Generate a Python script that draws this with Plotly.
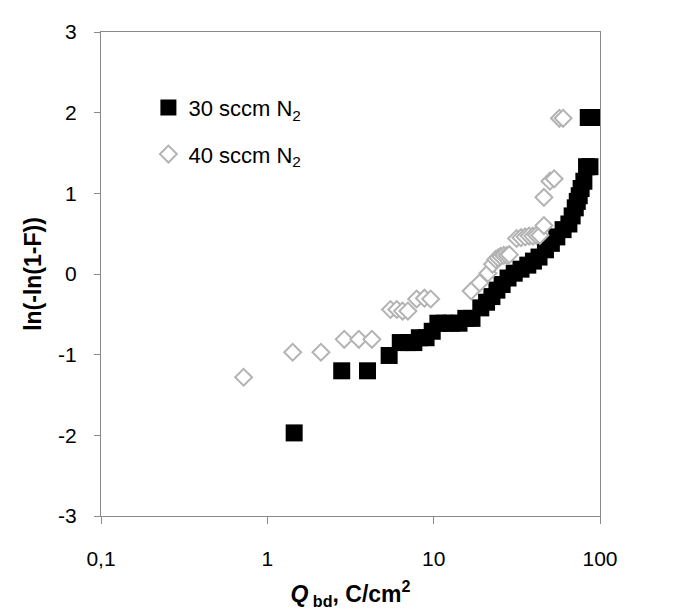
import plotly.graph_objects as go

# 30 sccm N2 (filled black squares)
q30 = [1.45, 2.8, 4.0, 5.4, 6.3, 7.0, 7.6, 8.2, 9.0, 9.8, 10.6, 11.6, 12.8, 14.2,
       15.6, 17.0, 19.2, 20.8, 22.4, 24.0, 25.8, 28.0, 30.5, 33.5, 36.8, 39.8, 43.0,
       47.0, 51.0, 55.0, 60.0, 65.0, 68.0, 71.0, 73.0, 75.0, 77.0, 80.0, 83.0, 87.0,
       85.0, 95.0]
w30 = [-1.97, -1.20, -1.20, -1.01, -0.85, -0.85, -0.85, -0.79, -0.79, -0.71, -0.61, -0.61,
       -0.61, -0.61, -0.55, -0.55, -0.42, -0.35, -0.28, -0.20, -0.13, -0.05, 0.01, 0.06,
       0.11, 0.16, 0.21, 0.30, 0.38, 0.46, 0.55, 0.62, 0.72, 0.82, 0.90, 0.97, 1.06, 1.15,
       1.33, 1.33, 1.94, 1.94]

# 40 sccm N2 (open grey diamonds)
q40 = [0.72, 1.42, 2.1, 2.9, 3.55, 4.25, 5.5, 6.0, 6.5, 7.0, 7.9, 8.8, 9.6,
       16.8, 18.9, 21.2, 22.6, 23.6, 24.4, 25.3, 26.4, 27.6, 28.5,
       31.5, 33.5, 35.5, 37.5, 39.5, 41.5, 43.5, 46.0, 46.0, 50.0, 53.0, 57.0, 60.0]
w40 = [-1.28, -0.97, -0.97, -0.81, -0.81, -0.81, -0.44, -0.44, -0.46, -0.46, -0.31, -0.30, -0.31,
       -0.21, -0.11, 0.01, 0.12, 0.18, 0.20, 0.22, 0.23, 0.23, 0.24,
       0.44, 0.45, 0.46, 0.47, 0.47, 0.48, 0.48, 0.60, 0.95, 1.15, 1.18, 1.93, 1.93]

x_ticks = [0.1, 1, 10, 100]
x_ticktext = ["0,1", "1", "10", "100"]
y_ticks = [-3, -2, -1, 0, 1, 2, 3]
y_ticktext = ["-3", "-2", "-1", "0", "1", "2", "3"]

FONT = "Liberation Sans, Arial, sans-serif"
AXIS_COL = "#8a8a8a"

fig = go.Figure()
fig.add_trace(go.Scatter(
    x=q30, y=w30, mode="markers", name="30 sccm N<sub>2</sub>", legendgroup="a",
    marker=dict(symbol="square", size=17, color="black", line=dict(width=0)),
))
fig.add_trace(go.Scatter(
    x=q40, y=w40, mode="markers", name="40 sccm N<sub>2</sub>", legendgroup="b",
    marker=dict(symbol="diamond", size=13, color="white",
                line=dict(width=2, color="#b3b3b3")),
))

fig.update_layout(
    width=675, height=609,
    margin=dict(l=93, r=83, t=20, b=101),
    paper_bgcolor="white", plot_bgcolor="white",
    font=dict(family=FONT, size=21, color="black"),
    showlegend=True,
    legend=dict(x=0.095, y=0.887, xanchor="left", yanchor="top",
                bgcolor="rgba(0,0,0,0)", font=dict(size=22),
                tracegroupgap=15, itemsizing="trace"),
    xaxis=dict(
        type="log", range=[-1, 2], tickvals=x_ticks, ticktext=x_ticktext,
        showgrid=False, zeroline=False, showline=True, linecolor=AXIS_COL, linewidth=1,
        mirror=True, ticks="outside", ticklen=7, tickcolor=AXIS_COL,
        ticklabelstandoff=17,
        title=dict(text="<b><i>Q</i><sub> bd</sub>, C/cm<sup>2</sup></b>", standoff=16,
                   font=dict(size=23)),
    ),
    yaxis=dict(
        range=[-3, 3], tickvals=y_ticks, ticktext=y_ticktext, showgrid=False,
        zeroline=False, showline=True, linecolor=AXIS_COL, linewidth=1, mirror=True,
        ticks="outside", ticklen=6, tickcolor=AXIS_COL, ticklabelstandoff=13,
        title=dict(text="<b>ln(-ln(1-F))</b>", standoff=10, font=dict(size=23)),
    ),
)

fig.write_html("out.html")
